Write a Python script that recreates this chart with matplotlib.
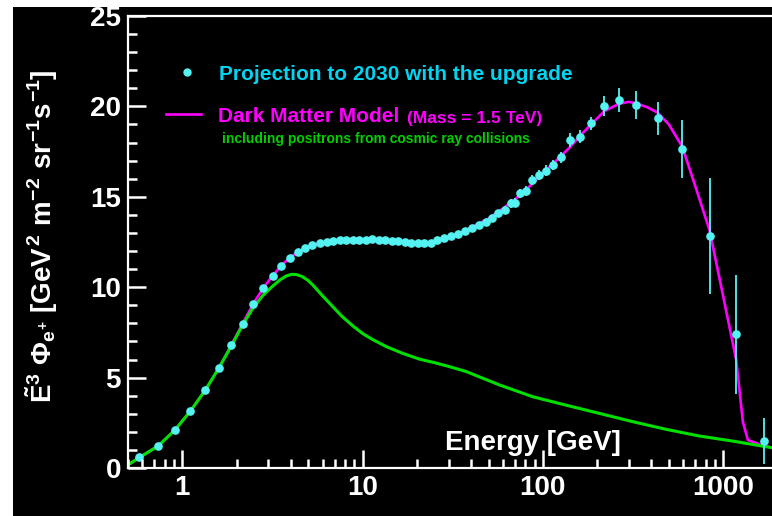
import matplotlib
matplotlib.use('Agg')
import matplotlib.pyplot as plt
from matplotlib.lines import Line2D
from matplotlib.patches import Rectangle
from matplotlib.ticker import LogLocator, MultipleLocator, FixedLocator, FixedFormatter, NullFormatter

# positron flux projection
proj_E = [0.572, 0.732, 0.91, 1.11, 1.34, 1.59, 1.87, 2.16, 2.48, 2.82, 3.18, 3.55, 3.94, 4.36,
          4.79, 5.26, 5.77, 6.34, 6.84,
          7.46, 8.10, 8.80, 9.56, 10.39, 11.29, 12.27, 13.33, 14.48, 15.74, 17.10, 18.58, 20.18,
          21.93, 23.83, 25.89,
          28.14, 30.77, 33.64, 36.79, 40.22, 43.99, 48.11, 51.94, 56.29, 61.33, 66.80, 69.66,
          74.28, 80.90, 87.35, 95.07, 103.5, 113.6, 126.5, 141.9, 159.8, 183.9, 217.9, 264.0,
          329.6, 434.4, 593.2, 840.6, 1182, 1675]
proj_flux = [0.59, 1.23, 2.12, 3.17, 4.33, 5.51, 6.79, 7.96, 9.07, 9.97, 10.64, 11.19, 11.63, 11.93,
             12.17, 12.32, 12.43, 12.5, 12.57,
             12.6, 12.62, 12.63, 12.6, 12.62, 12.64, 12.63, 12.6, 12.58, 12.55, 12.5, 12.45, 12.45,
             12.42, 12.45, 12.6,
             12.72, 12.85, 12.97, 13.1, 13.25, 13.42, 13.6, 13.85, 14.08, 14.27, 14.64, 14.67,
             15.19, 15.32, 15.93, 16.2, 16.45, 16.76, 17.18, 18.14, 18.33, 19.07, 20.02, 20.35,
             20.08, 19.34, 17.63, 12.83, 7.39, 1.49]
proj_err = [0.05] * 19 + [0.07] * 16 + [
    0.08, 0.08, 0.1, 0.1, 0.1, 0.12, 0.12, 0.15, 0.15, 0.2, 0.25, 0.25, 0.25, 0.25, 0.28, 0.28,
    0.3, 0.3, 0.3, 0.37, 0.37, 0.37, 0.53, 0.67, 0.75, 0.93, 1.6, 3.2, 3.27, 1.25]

# dark matter model (magenta)
dm_E = [0.5, 0.572, 0.69, 0.732, 0.91, 1.11, 1.34, 1.59, 1.87, 2.16, 2.48, 2.82, 3.18, 3.55, 3.94,
        4.36, 4.79, 5.26, 5.77, 6.34, 7, 8, 10, 12, 15, 18, 21, 25, 30, 35, 40, 50, 60, 70, 80,
        100, 120, 140, 160, 185, 220, 265, 300, 330, 380, 434, 500, 593, 700, 840, 1000, 1182,
        1286, 1371, 1627, 1870]
dm_flux = [0.17, 0.55, 1.05, 1.2, 2.1, 3.15, 4.3, 5.5, 6.8, 7.98, 9.1, 9.97, 10.65, 11.2, 11.62,
           11.93, 12.17, 12.32, 12.43, 12.5, 12.56, 12.6, 12.62, 12.62, 12.58, 12.5, 12.45, 12.5,
           12.75, 13.0, 13.3, 13.8, 14.35, 14.85, 15.35, 16.3, 17.05, 17.7, 18.35, 19.0, 19.75,
           20.15, 20.25, 20.17, 19.95, 19.65, 19.0, 17.77, 15.6, 13.16, 9.5, 5.97,
           2.56, 1.55, 1.27, 1.12]

# cosmic ray collisions only (green)
cr_E = [0.5, 0.572, 0.69, 0.732, 0.91, 1.11, 1.34, 1.59, 1.87, 2.16, 2.46, 2.8, 3.18, 3.5, 3.77,
        4.02, 4.3, 4.6, 4.95, 5.3, 6.0, 6.84, 7.7, 8.83, 10.0, 11.4, 13.5, 16.7, 20.7, 25, 30,
        37.7, 46, 57.6, 88, 134, 206, 316, 482, 737, 1128, 1870]
cr_flux = [0.17, 0.55, 1.05, 1.2, 2.1, 3.15, 4.3, 5.5, 6.75, 7.9, 8.83, 9.55, 10.07, 10.42, 10.62,
           10.71, 10.7, 10.6, 10.4, 10.12, 9.52, 8.92, 8.38, 7.86, 7.44, 7.1, 6.72, 6.34, 6.02,
           5.83, 5.62, 5.33, 4.98, 4.59, 3.94, 3.48, 3.02, 2.56, 2.14, 1.77, 1.49, 1.12]

x_ticks = [1, 10, 100, 1000]
x_tick_labels = ['1', '10', '100', '1000']

W, H = 772, 516

plt.rcParams['font.family'] = ['Liberation Sans', 'DejaVu Sans']
plt.rcParams['font.weight'] = 'bold'
plt.rcParams['mathtext.fontset'] = 'custom'
plt.rcParams['mathtext.rm'] = 'Liberation Sans:bold'
plt.rcParams['mathtext.it'] = 'Liberation Sans:bold'
plt.rcParams['mathtext.bf'] = 'Liberation Sans:bold'


def px(x, y):
    # pixel position -> figure fraction
    return x / W, 1 - y / H


fig = plt.figure(figsize=(W / 100, H / 100), dpi=100, facecolor='black')
ax = fig.add_axes([128 / W, (H - 468) / H, (W - 128) / W, (468 - 16) / H])
ax.set_facecolor('black')

ax.plot(dm_E, dm_flux, color='#ff00ff', lw=1.9, zorder=2)
ax.plot(cr_E, cr_flux, color='#00e000', lw=2.2, zorder=3)
ax.errorbar(proj_E, proj_flux, yerr=proj_err, fmt='o', color='#55f2f2', ms=5.2,
            elinewidth=1.3, capsize=0, zorder=4)

ax.set_xscale('log')
ax.set_xlim(0.5, 1866)
ax.set_ylim(0, 25)

ax.xaxis.set_major_locator(FixedLocator(x_ticks))
ax.xaxis.set_major_formatter(FixedFormatter(x_tick_labels))
ax.xaxis.set_minor_locator(LogLocator(base=10, subs=[2, 3, 4, 5, 6, 7, 8, 9], numticks=20))
ax.xaxis.set_minor_formatter(NullFormatter())
ax.yaxis.set_major_locator(MultipleLocator(5))
ax.yaxis.set_minor_locator(MultipleLocator(1))

for s in ['left', 'bottom', 'top']:
    ax.spines[s].set_color('white')
    ax.spines[s].set_linewidth(1.6)
ax.spines['right'].set_visible(False)

# inward white ticks, ROOT style
ax.tick_params(which='both', direction='in', color='white', labelcolor='white', width=1.8,
               top=False, right=False)
ax.tick_params(which='major', length=13, pad=5, labelsize=20)
ax.tick_params(which='minor', length=6.5)
ax.xaxis.set_zorder(5)
ax.yaxis.set_zorder(5)

# axis titles
fig.text(*px(42, 236),
         r'$\tilde{E}^{3}\ \Phi_{e^{+}}\ [GeV^{2}\ m^{-2}\ sr^{-1}s^{-1}]$',
         rotation=90, ha='center', va='center', color='white', fontsize=20)
fig.text(*px(445, 450), 'Energy [GeV]', ha='left', va='baseline', color='white',
         fontsize=20, fontweight='bold')

# legend drawn by hand
fig.add_artist(Line2D([187 / W], [1 - 72 / H], marker='o', ms=5, color='#55f2f2',
                      transform=fig.transFigure))
fig.text(*px(219, 80), 'Projection to 2030 with the upgrade', color='#00d4f0',
         fontsize=15, fontweight='bold', va='baseline')
fig.add_artist(Line2D([166 / W, 201 / W], [1 - 114 / H] * 2, color='#ff00ff', lw=1.9,
                      transform=fig.transFigure))
fig.text(*px(218, 122.5), 'Dark Matter Model', color='#ff00ff',
         fontsize=15, fontweight='bold', va='baseline')
fig.text(*px(407, 122.5), '(Mass = 1.5 TeV)', color='#ff00ff',
         fontsize=12.5, fontweight='bold', va='baseline')
fig.text(*px(222, 142.5), 'including positrons from cosmic ray collisions', color='#00d000',
         fontsize=10, fontweight='bold', va='baseline')

# white page border on the left and top
fig.add_artist(Rectangle((0, 0), 13 / W, 1, transform=fig.transFigure,
                         facecolor='white', edgecolor='none', zorder=10))
fig.add_artist(Rectangle((0, 1 - 7 / H), 1, 7 / H, transform=fig.transFigure,
                         facecolor='white', edgecolor='none', zorder=10))

fig.savefig('out.png', dpi=100, facecolor='black')
